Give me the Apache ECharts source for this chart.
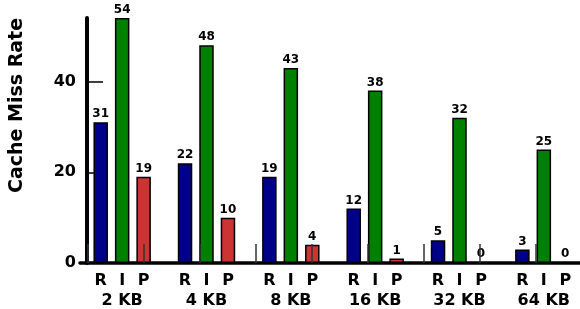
<!DOCTYPE html>
<html>
<head>
<meta charset="utf-8">
<script src="https://cdn.jsdelivr.net/npm/echarts@6/dist/echarts.min.js"></script>
<style>
html,body{margin:0;padding:0;background:#fff;}
#chart{width:580px;height:309px;}
</style>
</head>
<body>
<div id="chart"></div>
<script>
const categories = ['2 KB', '4 KB', '8 KB', '16 KB', '32 KB', '64 KB'];
const seriesNames = ['R', 'I', 'P'];
const rValues = [31, 22, 19, 12, 5, 3];
const iValues = [54, 48, 43, 38, 32, 25];
const pValues = [19, 10, 4, 1, 0, 0];
const yTickValues = [0, 20, 40];
const colors = ['#000088', '#008000', '#cc3333'];

const FONT = 'DejaVu Sans';
const chart = echarts.init(document.getElementById('chart'), null, {renderer: 'canvas'});

function makeSeries(name, data, color) {
  return {
    name: name,
    type: 'bar',
    data: data,
    barWidth: 14.5,
    barGap: '48%',
    itemStyle: {color: color, borderColor: '#000', borderWidth: 1.5},
    label: {
      show: true, position: 'top', distance: 2,
      color: '#000', fontFamily: FONT, fontWeight: 'bold', fontSize: 12
    },
    z: 2
  };
}

const richBase = {align: 'center', fontFamily: FONT, fontWeight: 'bold', fontSize: 16, color: '#000', lineHeight: 20};

chart.setOption({
  animation: false,
  backgroundColor: '#fff',
  grid: [
    {left: 80, width: 506, top: 18, bottom: 46, outerBoundsMode: 'none', containLabel: false},
    {left: 88, width: 504, top: 18, bottom: 46, outerBoundsMode: 'none', containLabel: false}
  ],
  xAxis: [
    {
      type: 'category', gridIndex: 0, data: categories,
      axisLine: {show: true, lineStyle: {color: '#000', width: 3.5}},
      axisTick: {show: false},
      axisLabel: {
        margin: 8, interval: 0, hideOverlap: false,
        formatter: function (v) { return '{r|R}{i|I}{p|P}\n{n|' + v + '}'; },
        rich: {
          r: Object.assign({width: 21.5}, richBase),
          i: Object.assign({width: 21.5}, richBase),
          p: Object.assign({width: 21.5}, richBase),
          n: Object.assign({}, richBase)
        }
      },
      splitLine: {show: false}
    },
    {
      type: 'value', gridIndex: 1, min: 0, max: 9, interval: 1,
      position: 'bottom', offset: 3.5, z: 10,
      axisLine: {show: false},
      axisLabel: {show: false},
      splitLine: {show: false},
      axisTick: {show: true, inside: true, length: 19, lineStyle: {color: '#333', width: 1.5}}
    }
  ],
  yAxis: [
    {
      type: 'value', gridIndex: 0, min: 0, max: 54, offset: -7,
      axisLine: {show: true, lineStyle: {color: '#000', width: 4}},
      axisTick: {show: true, inside: true, length: 16, customValues: yTickValues, lineStyle: {color: '#000', width: 1.5}},
      axisLabel: {margin: 11, customValues: yTickValues, color: '#000', fontFamily: FONT, fontWeight: 'bold', fontSize: 16},
      splitLine: {show: false}
    },
    {type: 'value', gridIndex: 1, min: 0, max: 54, show: false}
  ],
  graphic: [{
    type: 'text', x: 17.5, y: 105.5, rotation: Math.PI / 2,
    style: {
      text: 'Cache Miss Rate', fill: '#000', font: 'bold 19px "DejaVu Sans"',
      align: 'center', verticalAlign: 'middle'
    }
  }],
  series: [
    makeSeries(seriesNames[0], rValues, colors[0]),
    makeSeries(seriesNames[1], iValues, colors[1]),
    makeSeries(seriesNames[2], pValues, colors[2])
  ]
});
</script>
</body>
</html>
